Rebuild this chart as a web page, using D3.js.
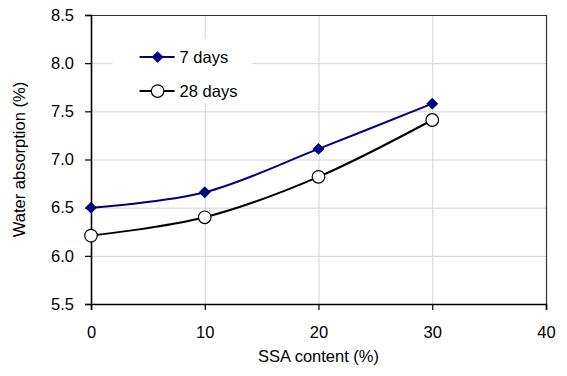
<!DOCTYPE html>
<html>
<head>
<meta charset="utf-8">
<script src="https://cdn.jsdelivr.net/npm/d3@7"></script>
<style>
  body { margin: 0; background: #fff; }
  text { font-family: "Liberation Sans", Arial, sans-serif; fill: #000; }
</style>
</head>
<body>
<svg id="chart"></svg>
<script>
// data
var ssaContent = [0, 10, 20, 30];
var days7 = [6.50, 6.66, 7.11, 7.58];
var days28 = [6.21, 6.40, 6.82, 7.41];
var xTicks = [0, 10, 20, 30, 40];
var yTicks = [5.5, 6.0, 6.5, 7.0, 7.5, 8.0, 8.5];
var seriesNames = ['7 days', '28 days'];

var W = 567, H = 376;
var margin = {top: 15, right: 21, bottom: 72, left: 91};
var width = W - margin.left - margin.right;
var height = H - margin.top - margin.bottom;
var fontSize = '16.5px';

var svg = d3.select('#chart')
    .attr('width', W)
    .attr('height', H)
    .append('g')
    .attr('transform', 'translate(' + margin.left + ',' + margin.top + ')');

var x = d3.scaleLinear().domain([0, 40]).range([0, width]);
var y = d3.scaleLinear().domain([5.5, 8.5]).range([height, 0]);

// gridlines
svg.append('g')
    .attr('class', 'grid')
    .attr('transform', 'translate(0,' + height + ')')
    .call(d3.axisBottom(x).tickValues(xTicks).tickSize(-height).tickFormat(''))
    .call(function(g){ g.select('.domain').remove(); });
svg.append('g')
    .attr('class', 'grid')
    .call(d3.axisLeft(y).tickValues(yTicks).tickSize(-width).tickFormat(''))
    .call(function(g){ g.select('.domain').remove(); });
svg.selectAll('.grid line').attr('stroke', '#d4d4d4').attr('stroke-width', 1);

// frame on top and right
svg.append('path')
    .attr('d', 'M0,0.5H' + (width + 0.5) + 'V' + height)
    .attr('fill', 'none')
    .attr('stroke', '#333')
    .attr('stroke-width', 1.2);

// legend background hides the gridlines behind it
var legend = svg.append('g').attr('transform', 'translate(' + x(1.9) + ',' + y(8.25) + ')');
legend.append('rect')
    .attr('x', 0).attr('y', 0)
    .attr('width', 140).attr('height', 64)
    .attr('fill', '#fff');

// axes
var xAxis = svg.append('g')
    .attr('transform', 'translate(0,' + height + ')')
    .call(d3.axisBottom(x).tickValues(xTicks).tickSize(6).tickPadding(16).tickFormat(d3.format('d')));
var yAxis = svg.append('g')
    .call(d3.axisLeft(y).tickValues(yTicks).tickSize(6).tickPadding(11).tickFormat(d3.format('.1f')));
[xAxis, yAxis].forEach(function(a){
    a.select('.domain').attr('stroke', '#000').attr('stroke-width', 1.6);
    a.selectAll('.tick line').attr('stroke', '#000').attr('stroke-width', 1.2);
    a.selectAll('.tick text')
        .style('font-family', '"Liberation Sans", Arial, sans-serif')
        .style('font-size', fontSize)
        .attr('fill', '#000');
});

// lines
var line = d3.line()
    .x(function(d){ return x(d.x); })
    .y(function(d){ return y(d.y); })
    .curve(d3.curveCatmullRom.alpha(0));

var s7 = ssaContent.map(function(v, i){ return {x: v, y: days7[i]}; });
var s28 = ssaContent.map(function(v, i){ return {x: v, y: days28[i]}; });

svg.append('path').datum(s28)
    .attr('fill', 'none').attr('stroke', '#000').attr('stroke-width', 2)
    .attr('d', line);
svg.append('path').datum(s7)
    .attr('fill', 'none').attr('stroke', '#000080').attr('stroke-width', 2)
    .attr('d', line);

var diamond = d3.symbol().type(d3.symbolDiamond2).size(90);

svg.selectAll('.m28').data(s28).enter().append('circle')
    .attr('cx', function(d){ return x(d.x); })
    .attr('cy', function(d){ return y(d.y); })
    .attr('r', 6.3)
    .attr('fill', '#fff').attr('stroke', '#000').attr('stroke-width', 1.2);
svg.selectAll('.m7').data(s7).enter().append('path')
    .attr('transform', function(d){ return 'translate(' + x(d.x) + ',' + y(d.y) + ')'; })
    .attr('d', diamond)
    .attr('fill', '#000080');

// legend entries
var colors = ['#000080', '#000'];
seriesNames.forEach(function(name, i){
    var ly = 18 + i * 34;
    legend.append('line')
        .attr('x1', 27).attr('x2', 62)
        .attr('y1', ly).attr('y2', ly)
        .attr('stroke', colors[i]).attr('stroke-width', 2);
    if (i == 0){
        legend.append('path')
            .attr('transform', 'translate(45,' + ly + ')')
            .attr('d', diamond)
            .attr('fill', '#000080');
    } else {
        legend.append('circle')
            .attr('cx', 45).attr('cy', ly).attr('r', 6.3)
            .attr('fill', '#fff').attr('stroke', '#000').attr('stroke-width', 1.2);
    }
    legend.append('text')
        .attr('x', 67).attr('y', ly + 6)
        .style('font-size', fontSize)
        .text(name);
});

// axis titles
svg.append('text')
    .attr('x', width / 2)
    .attr('y', height + 58)
    .attr('text-anchor', 'middle')
    .style('font-size', fontSize)
    .text('SSA content (%)');
svg.append('text')
    .attr('transform', 'rotate(-90)')
    .attr('x', -height / 2)
    .attr('y', -66)
    .attr('text-anchor', 'middle')
    .style('font-size', fontSize)
    .text('Water absorption (%)');
</script>
</body>
</html>
